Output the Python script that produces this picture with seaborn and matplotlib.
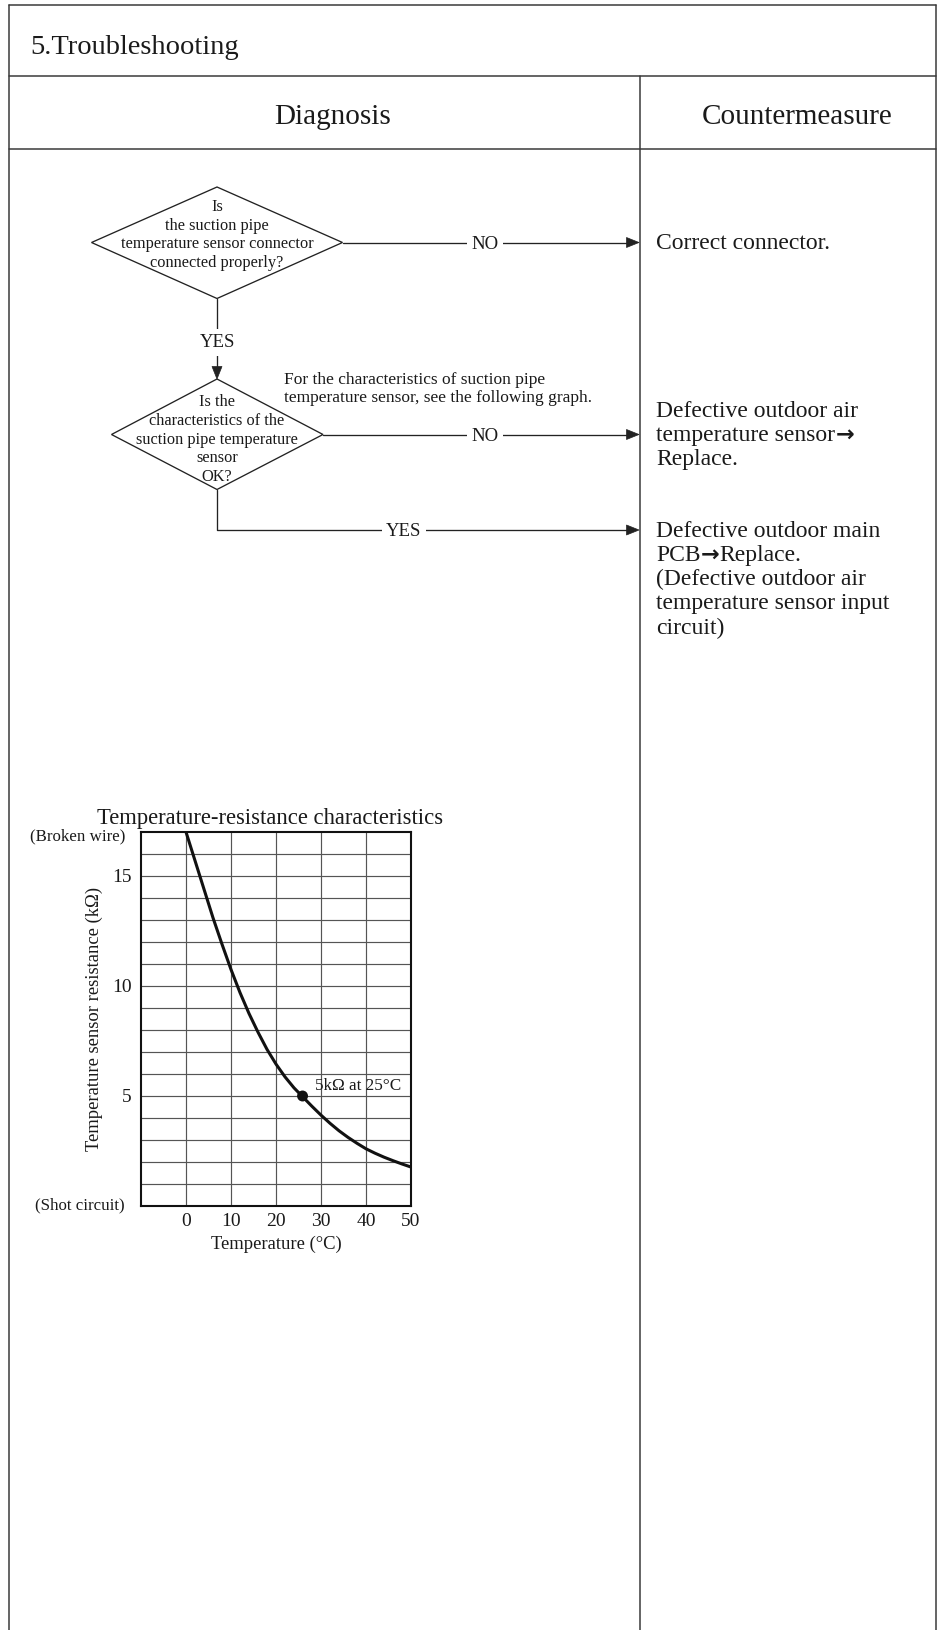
import numpy as np
import matplotlib
matplotlib.use("Agg")
import matplotlib.pyplot as plt
from matplotlib.patches import Polygon
import matplotlib.transforms as mtransforms
import seaborn as sns

# ---------------- data ----------------
temperature_c = [0, 2, 4, 6, 8, 10, 12, 14, 16, 18, 20, 22, 24, 26, 28, 30,
                 32, 34, 36, 38, 40, 42, 44, 46, 48, 50]
resistance_kohm = [17.0, 15.7, 14.4, 13.1, 11.9, 10.75, 9.7, 8.75, 7.9, 7.12, 6.45, 5.87, 5.37, 4.95, 4.53, 4.13,
                   3.76, 3.42, 3.12, 2.85, 2.6, 2.4, 2.22, 2.06, 1.91, 1.77]
ref_point_t = [25.9]
ref_point_r = [5]
x_ticks = [0, 10, 20, 30, 40, 50]
y_ticks = [5, 10, 15]
y_grid = list(range(1, 17))

title_text = "5.Troubleshooting"
col_headers = ["Diagnosis", "Countermeasure"]
q1_lines = ["Is", "the suction pipe", "temperature sensor connector", "connected properly?"]
q2_lines = ["Is the", "characteristics of the", "suction pipe temperature", "sensor", "OK?"]
note_lines = ["For the characteristics of suction pipe", "temperature sensor, see the following graph."]
ARROW = "\u2192"
cm1_lines = ["Correct connector."]
cm2_lines = ["Defective outdoor air", "temperature sensor" + ARROW, "Replace."]
cm3_lines = ["Defective outdoor main", "PCB" + ARROW + "Replace.", "(Defective outdoor air",
             "temperature sensor input", "circuit)"]

# ---------------- style ----------------
sns.set_theme(style="white")
SERIF = ['Liberation Serif', 'DejaVu Serif']
plt.rcParams['font.family'] = SERIF
TXT = '#1a1a1a'
LINE = '#3a3a3a'

W, H = 938, 1630
fig = plt.figure(figsize=(W / 100, H / 100), dpi=100)
fig.patch.set_facecolor('white')

bg = fig.add_axes([0, 0, 1, 1])
bg.set_xlim(0, W)
bg.set_ylim(H, 0)
bg.axis('off')
renderer = fig.canvas.get_renderer()

# table frame
tlw = 1.1
L, R, T = 9, 936, 5
DIV = 640
bg.plot([L, L], [T, H], color=LINE, lw=tlw)
bg.plot([R, R], [T, H], color=LINE, lw=tlw)
bg.plot([L, R], [T, T], color=LINE, lw=tlw)
bg.plot([L, R], [76, 76], color=LINE, lw=tlw)
bg.plot([L, R], [149, 149], color=LINE, lw=tlw)
bg.plot([DIV, DIV], [76, H], color=LINE, lw=tlw)

bg.text(30, 44, title_text, fontsize=20.5, color=TXT, ha='left', va='center_baseline')
bg.text(333, 114, col_headers[0], fontsize=21, color=TXT, ha='center', va='center_baseline')
bg.text(797, 114, col_headers[1], fontsize=21, color=TXT, ha='center', va='center_baseline')

# flowchart
flw = 0.95
FC = '#222222'
CX = 217
box = dict(boxstyle='square,pad=0.25', fc='white', ec='none')


def head(x, y, d):
    if d == 'right':
        pts = [(x, y), (x - 12.5, y - 5), (x - 12.5, y + 5)]
    else:
        pts = [(x, y), (x - 5, y - 12.5), (x + 5, y - 12.5)]
    bg.add_patch(Polygon(pts, closed=True, fc=FC, ec=FC, lw=0.5, zorder=3))


# diamond 1
d1 = dict(top=187, bot=298.5, left=91.5, right=342.5, cy=242.5)
bg.add_patch(Polygon([(CX, d1['top']), (d1['right'], d1['cy']), (CX, d1['bot']), (d1['left'], d1['cy'])],
                     closed=True, fill=False, ec=FC, lw=flw))
for i, s in enumerate(q1_lines):
    bg.text(CX, 205 + i * 18.6, s, fontsize=11.8, color=TXT, ha='center', va='center_baseline')

# diamond 2
d2 = dict(top=379, bot=489.5, left=111.5, right=323, cy=434.5)
bg.add_patch(Polygon([(CX, d2['top']), (d2['right'], d2['cy']), (CX, d2['bot']), (d2['left'], d2['cy'])],
                     closed=True, fill=False, ec=FC, lw=flw))
for i, s in enumerate(q2_lines):
    bg.text(CX, 400.5 + i * 18.6, s, fontsize=11.8, color=TXT, ha='center', va='center_baseline')

# note
for i, s in enumerate(note_lines):
    bg.text(284, 378 + i * 18.5, s, fontsize=12.5, color=TXT, ha='left', va='center_baseline')

# connector d1 -> d2
bg.plot([CX, CX], [d1['bot'], d2['top'] - 10], color=FC, lw=flw)
head(CX, d2['top'], 'down')
bg.text(CX, 340.5, "YES", fontsize=13.5, color=TXT, ha='center', va='center_baseline', bbox=box, zorder=4)

# NO arrows
TIP = 639
bg.plot([d1['right'], TIP - 10], [d1['cy'], d1['cy']], color=FC, lw=flw)
head(TIP, d1['cy'], 'right')
bg.text(485, d1['cy'], "NO", fontsize=13.5, color=TXT, ha='center', va='center_baseline', bbox=box, zorder=4)

bg.plot([d2['right'], TIP - 10], [d2['cy'], d2['cy']], color=FC, lw=flw)
head(TIP, d2['cy'], 'right')
bg.text(485, d2['cy'], "NO", fontsize=13.5, color=TXT, ha='center', va='center_baseline', bbox=box, zorder=4)

# YES path from d2
bg.plot([CX, CX, TIP - 10], [d2['bot'], 530, 530], color=FC, lw=flw)
head(TIP, 530, 'right')
bg.text(404, 530, "YES", fontsize=13.5, color=TXT, ha='center', va='center_baseline', bbox=box, zorder=4)


# countermeasures: lines drawn piecewise so the arrow uses a heavy glyph
def cm_line(x, ycenter, s, fs=17):
    base = ycenter + 0.35 * fs * 100 / 72
    pieces = s.split(ARROW)
    cur = x
    for k, p in enumerate(pieces):
        if p:
            t = bg.text(cur, base, p, fontsize=fs, color=TXT, ha='left', va='baseline')
            cur += t.get_window_extent(renderer).width
        if k < len(pieces) - 1:
            a = bg.text(cur + 0.5, base - 0.5, ARROW, fontsize=fs * 0.95, color=TXT, ha='left', va='baseline',
                        family='DejaVu Sans', weight='bold')
            cur += a.get_window_extent(renderer).width + 0.5


CMX = 656
cm_line(CMX, 241, cm1_lines[0])
for i, s in enumerate(cm2_lines):
    cm_line(CMX, 408.5 + i * 24, s)
for i, s in enumerate(cm3_lines):
    cm_line(CMX, 528.5 + i * 24.2, s)

# ---------------- graph ----------------
ax = fig.add_axes([141 / W, 1 - 1206 / H, 270 / W, 374 / H])
ax.set_facecolor('white')
ax.set_xlim(-10, 50)
ax.set_ylim(0, 17)
ax.set_xticks(x_ticks)
ax.set_yticks(y_ticks)
ax.set_yticks(y_grid, minor=True)
ax.xaxis.grid(True, which='major', color='#555555', lw=0.85)
ax.yaxis.grid(True, which='both', color='#555555', lw=0.85)
ax.set_axisbelow(True)

sns.lineplot(x=temperature_c, y=resistance_kohm, ax=ax, color='#111111', lw=2.2, zorder=4)
sns.scatterplot(x=ref_point_t, y=ref_point_r, ax=ax, color='#111111', s=62, edgecolor='none', zorder=5)

for sp in ax.spines.values():
    sp.set_visible(True)
    sp.set_color('#111111')
    sp.set_linewidth(1.5)

ax.tick_params(axis='both', which='both', length=0, labelsize=14, labelcolor=TXT)
ax.tick_params(axis='y', pad=6.5)
ax.tick_params(axis='x', pad=5)

ax.set_title("Temperature-resistance characteristics", fontsize=16.3, color=TXT, pad=6, x=0.478)
ax.set_xlabel("Temperature (°C)", fontsize=13.4, color=TXT, labelpad=4)
ax.set_ylabel("Temperature sensor resistance (kΩ)", fontsize=13.4, color=TXT, labelpad=7)

blend = mtransforms.blended_transform_factory(ax.transAxes, ax.transData)
ax.text(-0.059, 16.8, "(Broken wire)", transform=blend, ha='right', va='center', fontsize=12.2, color=TXT)
ax.text(-0.059, 0.05, "(Shot circuit)", transform=blend, ha='right', va='center', fontsize=12.2, color=TXT)

ax.annotate("5kΩ at 25°C", xy=(ref_point_t[0], ref_point_r[0]), xytext=(9, 7), textcoords='offset points',
            ha='left', va='center', fontsize=12.3, color=TXT)

fig.savefig("out.png", dpi=100, facecolor='white')
